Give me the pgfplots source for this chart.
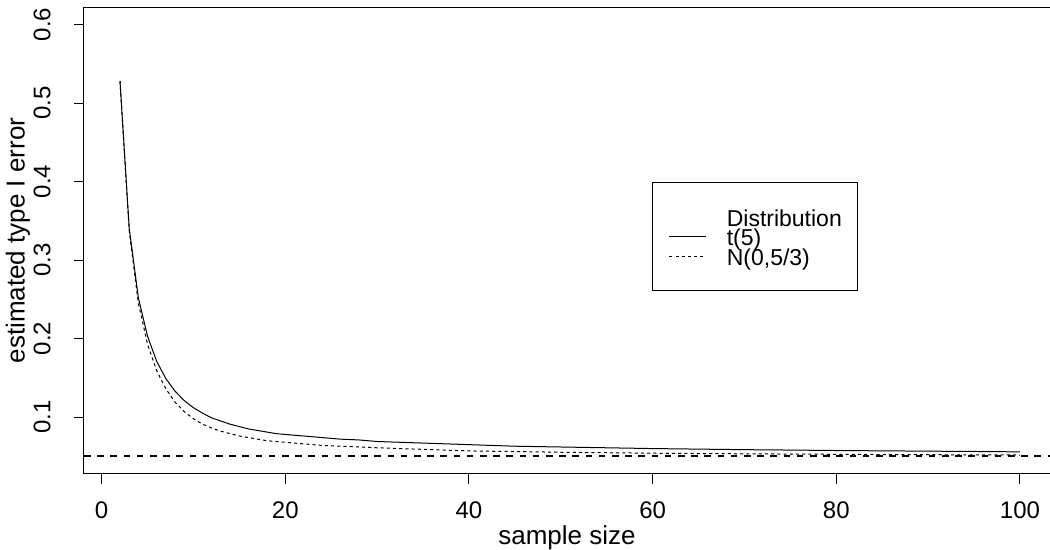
\documentclass[border=0pt]{standalone}
\usepackage{fontspec}
\setmainfont{Liberation Sans}
\usepackage{pgfplots}
\pgfplotsset{compat=1.18}
\usepackage{pgfplotstable}

\pgfplotstableread{
n err
2 0.528
3 0.341
4 0.252
5 0.203
6 0.171
7 0.149
8 0.133
9 0.121
10 0.112
11 0.105
12 0.099
13 0.095
14 0.091
15 0.088
16 0.085
17 0.083
18 0.081
19 0.079
20 0.078
22 0.076
24 0.074
26 0.072
28 0.071
30 0.069
35 0.067
40 0.065
45 0.063
50 0.062
55 0.061
60 0.060
65 0.0593
70 0.0586
75 0.0581
80 0.0575
85 0.0571
90 0.0567
95 0.0563
100 0.0558
}\tdata

\pgfplotstableread{
n err
2 0.528
3 0.338
4 0.245
5 0.193
6 0.159
7 0.136
8 0.119
9 0.107
10 0.098
11 0.091
12 0.086
13 0.082
14 0.079
15 0.076
16 0.074
17 0.072
18 0.070
19 0.069
20 0.068
22 0.066
24 0.064
26 0.063
28 0.062
30 0.061
35 0.059
40 0.057
45 0.0562
50 0.0553
55 0.0547
60 0.0541
65 0.0537
70 0.0533
75 0.0530
80 0.0527
85 0.0524
90 0.0522
95 0.0520
100 0.0518
}\ndata

\begin{document}
\fontsize{12}{14}\selectfont
\begin{tikzpicture}
\begin{axis}[
  at={(0,0)}, anchor=south west,
  scale only axis, width=483pt, height=233.2pt,
  xmin=-1.92, xmax=103.27, ymin=0.028, ymax=0.622,
  axis line style={black, line width=0.5pt},
  xtick={0,20,40,60,80,100},
  xticklabels={0,20,40,60,80,100},
  ytick={0.1,0.2,0.3,0.4,0.5,0.6},
  yticklabels={0.1,0.2,0.3,0.4,0.5,0.6},
  /pgf/number format/assume math mode=true,
  tick pos=left, tick align=outside, major tick length=5pt,
  tick style={black, line width=0.5pt},
  tick label style={font=\fontsize{12}{14}\selectfont},
  xticklabel style={anchor=center, yshift=-13.2pt},
  yticklabel style={xshift=-16pt, rotate=90, anchor=center},
  xlabel={sample size},
  ylabel={estimated type I error},
  label style={font=\fontsize{13}{15}\selectfont},
  xlabel style={at={([yshift=-32pt]axis description cs:0.5,0)}, anchor=center},
  ylabel style={at={([xshift=-33pt]axis description cs:0,0.5)}, anchor=center, rotate=0},
  legend cell align=left,
  legend image code/.code={\draw[#1] (0pt,0pt) -- (18.5pt,0pt);},
  legend style={at={(0.5883,0.6248)}, anchor=north west, draw=black,
    line width=0.5pt, fill=white, inner xsep=8pt, inner ysep=12.3pt,
    row sep=0pt, column sep=10pt, font=\fontsize{11.5}{13}\selectfont,
    nodes={inner sep=0pt, text height=9.5pt, text depth=0.25pt}},
]
\addlegendimage{empty legend}
\addlegendentry{Distribution}
\addplot[black, line width=0.5pt] table[x=n, y=err] {\tdata};
\addlegendentry{t(5)}
\addplot[black, line width=0.5pt, dash pattern=on 1.55pt off 1.55pt] table[x=n, y=err] {\ndata};
\addlegendentry{N(0,5/3)}
\addplot[black, line width=1pt, dash pattern=on 3.3pt off 3.3pt, forget plot] coordinates {(-1.92,0.05) (103.27,0.05)};
\end{axis}
\pgfresetboundingbox
\useasboundingbox (-42pt,-38.15pt) rectangle (483pt,236.85pt);
\end{tikzpicture}
\end{document}
